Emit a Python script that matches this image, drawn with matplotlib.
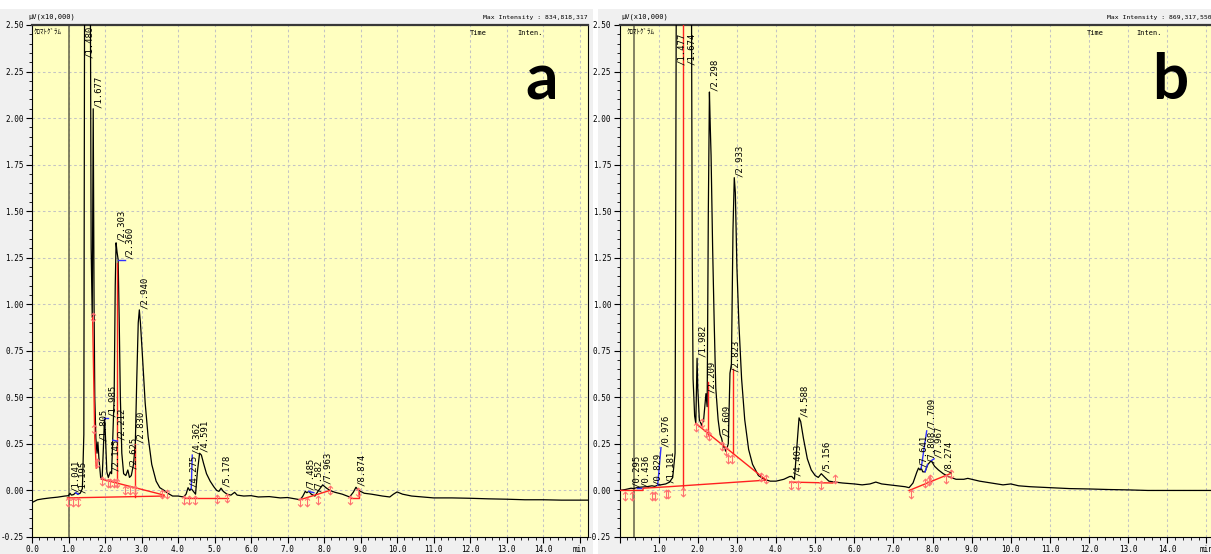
import matplotlib
matplotlib.use("Agg")
import matplotlib.pyplot as plt
from matplotlib.patches import Rectangle
from matplotlib.ticker import MultipleLocator, FuncFormatter

#######################################################################################################################
## Data
#######################################################################################################################

# sample a: detector trace (min, uV x10,000), labelled peaks kept separately
traceTimesA = [0.00, 0.05, 0.15, 0.30, 0.50, 0.70, 0.90, 1.00, 1.08, 1.14, 1.25, 1.32, 1.38, 1.42, 1.44, 1.60,
               1.62, 1.65, 1.70, 1.72, 1.75, 1.78, 1.83, 1.88, 1.92, 1.96, 2.01, 2.05, 2.09, 2.18, 2.25, 2.28,
               2.33, 2.39, 2.42, 2.46, 2.51, 2.57, 2.67, 2.72, 2.78, 2.87, 2.91, 2.97, 3.02, 3.10, 3.18, 3.28,
               3.40, 3.50, 3.62, 3.72, 3.85, 4.00, 4.15, 4.22, 4.32, 4.42, 4.48, 4.53, 4.64, 4.70, 4.78, 4.88,
               4.98, 5.06, 5.12, 5.24, 5.34, 5.45, 5.55, 5.62, 5.80, 6.00, 6.20, 6.50, 6.80, 7.00, 7.20, 7.35,
               7.42, 7.53, 7.65, 7.75, 7.85, 8.05, 8.16, 8.30, 8.50, 8.70, 8.80, 8.95, 9.10, 9.30, 9.60, 9.80,
               9.90, 10.00, 10.15, 10.40, 10.70, 11.00, 11.50, 12.00, 12.50, 13.00, 13.50, 14.00, 14.50, 15.23]
traceIntenA = [-0.065, -0.060, -0.050, -0.045, -0.040, -0.036, -0.030, -0.028, -0.025, -0.022, -0.020, -0.015,
               0.010, 0.300, 2.600, 2.600, 1.300, 0.930, 1.000, 0.500, 0.280, 0.200, 0.180, 0.070, 0.060, 0.250,
               0.300, 0.100, 0.070, 0.090, 0.500, 1.100, 1.280, 0.900, 0.500, 0.200, 0.090, 0.080, 0.070, 0.080,
               0.140, 0.600, 0.900, 0.900, 0.740, 0.470, 0.290, 0.140, 0.050, 0.015, 0.000, -0.015, -0.030,
               -0.030, -0.035, -0.020, 0.000, -0.005, -0.020, 0.100, 0.190, 0.145, 0.090, 0.050, 0.020, 0.000,
               -0.005, -0.005, -0.020, -0.025, -0.010, -0.025, -0.030, -0.028, -0.035, -0.033, -0.040, -0.038,
               -0.045, -0.050, -0.030, -0.012, -0.020, -0.030, 0.000, 0.015, 0.000, -0.010, -0.020, -0.035,
               -0.010, 0.000, -0.015, -0.020, -0.030, -0.035, -0.020, -0.008, -0.020, -0.030, -0.035, -0.040,
               -0.040, -0.042, -0.045, -0.047, -0.050, -0.050, -0.052, -0.052]
peakTimesA = [1.041, 1.195, 1.480, 1.677, 1.805, 1.985, 2.145, 2.212, 2.303, 2.360, 2.625, 2.830, 2.940,
              4.275, 4.362, 4.591, 5.178, 7.485, 7.582, 7.963, 8.874]
peakHeightsA = [-0.015, -0.012, 2.600, 2.050, 0.260, 0.390, 0.100, 0.270, 1.330, 1.240, 0.110, 0.250, 0.970,
                0.015, 0.010, 0.200, 0.012, -0.005, -0.005, 0.030, 0.017]
maxIntensityA = "834,818,317"

# sample b
traceTimesB = [0.00, 0.15, 0.36, 0.55, 0.70, 0.90, 1.05, 1.28, 1.36, 1.42, 1.45, 1.84, 1.86, 1.88, 1.92, 1.95,
               2.00, 2.04, 2.10, 2.15, 2.24, 2.27, 2.32, 2.34, 2.38, 2.42, 2.46, 2.52, 2.57, 2.65, 2.72, 2.78,
               2.86, 2.90, 2.96, 3.00, 3.05, 3.12, 3.20, 3.30, 3.40, 3.55, 3.70, 3.85, 4.00, 4.20, 4.35, 4.47,
               4.52, 4.63, 4.70, 4.80, 4.90, 5.00, 5.08, 5.25, 5.35, 5.50, 5.70, 6.00, 6.20, 6.40, 6.55, 6.70,
               6.90, 7.10, 7.30, 7.40, 7.50, 7.60, 7.68, 7.75, 7.88, 8.05, 8.15, 8.40, 8.60, 8.80, 8.90, 9.00,
               9.20, 9.50, 9.80, 10.00, 10.20, 10.50, 11.00, 11.50, 12.00, 12.50, 13.00, 13.50, 14.00, 15.23]
traceIntenB = [0.000, 0.005, 0.010, 0.018, 0.020, 0.022, 0.030, 0.045, 0.070, 0.200, 2.600, 2.600, 1.200,
               0.600, 0.400, 0.360, 0.550, 0.380, 0.350, 0.380, 0.450, 1.500, 1.950, 1.800, 1.300, 0.900, 0.550,
               0.380, 0.300, 0.240, 0.210, 0.250, 0.680, 1.400, 1.600, 1.200, 0.900, 0.600, 0.380, 0.220, 0.140,
               0.080, 0.060, 0.050, 0.050, 0.060, 0.075, 0.060, 0.200, 0.370, 0.280, 0.170, 0.110, 0.080, 0.070,
               0.070, 0.050, 0.045, 0.040, 0.035, 0.030, 0.035, 0.045, 0.035, 0.030, 0.025, 0.020, 0.015, 0.040,
               0.100, 0.110, 0.100, 0.140, 0.130, 0.110, 0.075, 0.060, 0.060, 0.065, 0.060, 0.050, 0.040, 0.030,
               0.035, 0.025, 0.020, 0.015, 0.010, 0.008, 0.005, 0.003, 0.000, 0.000, 0.000]
peakTimesB = [0.295, 0.436, 0.829, 0.976, 1.181, 1.477, 1.674, 1.982, 2.209, 2.298, 2.609, 2.823, 2.933,
              4.403, 4.588, 5.156, 7.641, 7.709, 7.808, 7.967, 8.274]
peakHeightsB = [0.012, 0.015, 0.025, 0.028, 0.035, 2.600, 2.600, 0.710, 0.520, 2.140, 0.280, 0.630, 1.680,
                0.075, 0.390, 0.090, 0.120, 0.120, 0.100, 0.160, 0.090]
maxIntensityB = "869,317,550"

# integration baselines / drop lines (red) and peak start/end marks
redLinesA = [[(0.97, -0.04), (3.62, -0.03)],
             [(1.92, 0.06), (3.62, -0.025)],
             [(4.15, -0.04), (5.38, -0.04)],
             [(7.34, -0.05), (8.16, 0.0)],
             [(8.70, -0.04), (8.97, -0.04), (8.97, -0.01)],
             [(1.66, 0.93), (1.72, 0.28), (1.76, 0.12)],
             [(2.33, 1.22), (2.33, 0.02)],
             [(2.83, 0.25), (2.83, -0.035)]]
marksA = [(0.99, -0.06), (1.13, -0.06), (1.26, -0.06), (1.66, 0.93), (1.70, 0.33), (1.77, 0.15), (1.92, 0.05),
          (2.08, 0.04), (2.15, 0.04), (2.25, 0.04), (2.33, 0.04), (2.55, 0.0), (2.68, 0.0), (2.82, 0.0),
          (3.56, -0.02), (3.70, -0.02), (4.15, -0.05), (4.30, -0.05), (4.47, -0.05), (5.06, -0.045),
          (5.33, -0.04), (7.34, -0.06), (7.53, -0.06), (7.84, -0.05), (8.16, 0.0), (8.71, -0.05), (8.93, -0.01)]

redLinesB = [[(0.0, 0.0), (0.6, 0.0), (0.6, 0.012), (1.25, 0.02), (3.72, 0.055)],
             [(1.95, 0.36), (3.72, 0.06)],
             [(4.35, 0.045), (5.45, 0.04)],
             [(7.40, 0.0), (8.45, 0.09)],
             [(1.63, 0.0), (1.63, 2.6)],
             [(2.27, 0.58), (2.27, 0.30)],
             [(2.89, 0.65), (2.89, 0.20)]]
marksB = [(0.13, -0.03), (0.32, -0.03), (0.82, -0.03), (0.90, -0.03), (1.20, -0.02), (1.25, -0.02), (1.63, -0.01),
          (1.96, 0.34), (2.10, 0.36), (2.20, 0.31), (2.28, 0.29), (2.63, 0.24), (2.72, 0.21), (2.76, 0.17),
          (2.88, 0.17), (3.62, 0.07), (3.75, 0.06), (4.39, 0.03), (4.57, 0.03), (5.15, 0.03), (5.50, 0.06),
          (7.45, -0.02), (7.80, 0.04), (7.90, 0.05), (7.93, 0.06), (8.35, 0.06), (8.47, 0.09)]

# labels that get pushed off their peak (blue leader drawn) or pinned under the top edge
labelShiftA = {1.195: (1.27, -0.02), 1.480: (1.46, 2.32), 1.985: (2.07, 0.39), 2.212: (2.34, 0.265),
               2.360: (2.56, 1.24), 4.362: (4.39, 0.19), 7.582: (7.72, -0.012)}
labelShiftB = {0.436: (0.56, 0.015), 0.976: (1.06, 0.23), 1.477: (1.47, 2.28), 1.674: (1.72, 2.28),
               7.709: (7.85, 0.32), 7.808: (7.87, 0.14), 7.967: (8.04, 0.17)}

eventTimeA = 1.01
eventTimeB = 0.38

#######################################################################################################################
## Functions
#######################################################################################################################

figW, figH = 1211, 554
mono = "DejaVu Sans Mono"
yMin, yMax = -0.25, 2.5
xMax = 15.23


#### Start ####
def mergePeaks(traceT, traceV, peakT, peakV):
  pts = sorted(list(zip(traceT, traceV)) + list(zip(peakT, peakV)))
  return [p[0] for p in pts], [p[1] for p in pts]
#### End ####


#### Start ####
def pixText(x, y, s, **kw):
  fig.text(x / figW, 1 - y / figH, s, **kw)
#### End ####


#### Start ####
def drawPanel(ax, traceT, traceV, peakT, peakV, redLines, marks, labelShift, eventTime, showZero):
  ax.set_facecolor("#ffffc0")
  ax.set_xlim(0, xMax)
  ax.set_ylim(yMin, yMax)

  ax.xaxis.set_major_locator(MultipleLocator(1.0))
  ax.xaxis.set_minor_locator(MultipleLocator(0.2))
  ax.yaxis.set_major_locator(MultipleLocator(0.25))
  ax.yaxis.set_minor_locator(MultipleLocator(0.05))

  def xFmt(v, pos):
    if abs(v - 15.0) < 1e-6:
      return "min"
    if abs(v) < 1e-6 and not showZero:
      return ""
    return "%.1f" % v
  ax.xaxis.set_major_formatter(FuncFormatter(xFmt))
  ax.yaxis.set_major_formatter(FuncFormatter(lambda v, pos: "%.2f" % v))

  ax.tick_params(which="major", length=4, width=0.8, labelsize=5.5, pad=2)
  ax.tick_params(which="minor", length=2, width=0.6)
  for lbl in ax.get_xticklabels() + ax.get_yticklabels():
    lbl.set_family(mono)

  ax.grid(True, which="major", color="#c4c4c4", linestyle=(0, (2.5, 2.5)), linewidth=0.75)
  ax.set_axisbelow(True)
  for side in ["left", "bottom", "right"]:
    ax.spines[side].set_linewidth(0.8)
  ax.spines["top"].set_linewidth(1.6)
  ax.spines["top"].set_color("#383838")

  ax.axvline(eventTime, color="#6e6e52", linewidth=1.2, zorder=2)

  t, v = mergePeaks(traceT, traceV, peakT, peakV)
  ax.plot(t, v, color="black", linewidth=0.9, zorder=3)

  for seg in redLines:
    ax.plot([p[0] for p in seg], [p[1] for p in seg], color="#ff2020", linewidth=1.0, zorder=4)

  ax.plot([m[0] for m in marks], [m[1] for m in marks], linestyle="none", marker=r"$\updownarrow$",
          markersize=7, markeredgewidth=0, color="#ff7070", zorder=5)

  for pt, pv in zip(peakT, peakV):
    if pt in labelShift:
      lt, lv = labelShift[pt]
      if pv < yMax:
        ax.plot([pt, lt], [pv, lv], color="#3030ff", linewidth=1.0, zorder=4)
    else:
      lt, lv = pt + 0.02, pv
    ax.text(lt, lv + 0.005, "/%.3f" % pt, rotation=90, ha="left", va="bottom", fontsize=6.5,
            family=mono, zorder=6)
#### End ####

#######################################################################################################################
## Figure
#######################################################################################################################

fig = plt.figure(figsize=(figW / 100, figH / 100), dpi=100, facecolor="white")

# grey window backgrounds of the two chromatogram views
fig.add_artist(Rectangle((0, 0), 593 / figW, (figH - 9) / figH, transform=fig.transFigure,
                         facecolor="#f0f0f0", edgecolor="none", zorder=-10))
fig.add_artist(Rectangle((598 / figW, 0), (figW - 598) / figW, (figH - 9) / figH, transform=fig.transFigure,
                         facecolor="#f0f0f0", edgecolor="none", zorder=-10))

axA = fig.add_axes([32 / figW, 1 - 537 / figH, 556 / figW, 512 / figH])
axB = fig.add_axes([619.5 / figW, 1 - 537 / figH, 596 / figW, 512 / figH])

drawPanel(axA, traceTimesA, traceIntenA, peakTimesA, peakHeightsA, redLinesA, marksA, labelShiftA, eventTimeA, True)
drawPanel(axB, traceTimesB, traceIntenB, peakTimesB, peakHeightsB, redLinesB, marksB, labelShiftB, eventTimeB, False)

kana = ["Noto Sans CJK JP", "DejaVu Sans"]
for x0, xRight, xTime, xInten, maxInt, xLetter, letter in [(28, 588, 470, 517, maxIntensityA, 542, "a"),
                                                             (621, 1212, 1087, 1136, maxIntensityB, 1170, "b")]:
  pixText(x0, 17, "\u03bcV(x10,000)", ha="left", va="center", fontsize=5, family=mono)
  pixText(xRight, 17, "Max Intensity : " + maxInt, ha="right", va="center", fontsize=4.6, family=mono)
  pixText(x0 + 6, 33, "\uff78\uff9b\uff8f\uff84\uff78\uff9e\uff97\uff91", ha="left", va="center", fontsize=5,
          family=kana)
  pixText(xTime, 33, "Time", ha="left", va="center", fontsize=5, family=mono)
  pixText(xInten, 33, "Inten.", ha="left", va="center", fontsize=5, family=mono)
  pixText(xLetter, 99, letter, ha="center", va="baseline", fontsize=46, fontweight="bold", family="Lato")

plt.savefig("out.png", dpi=100)
